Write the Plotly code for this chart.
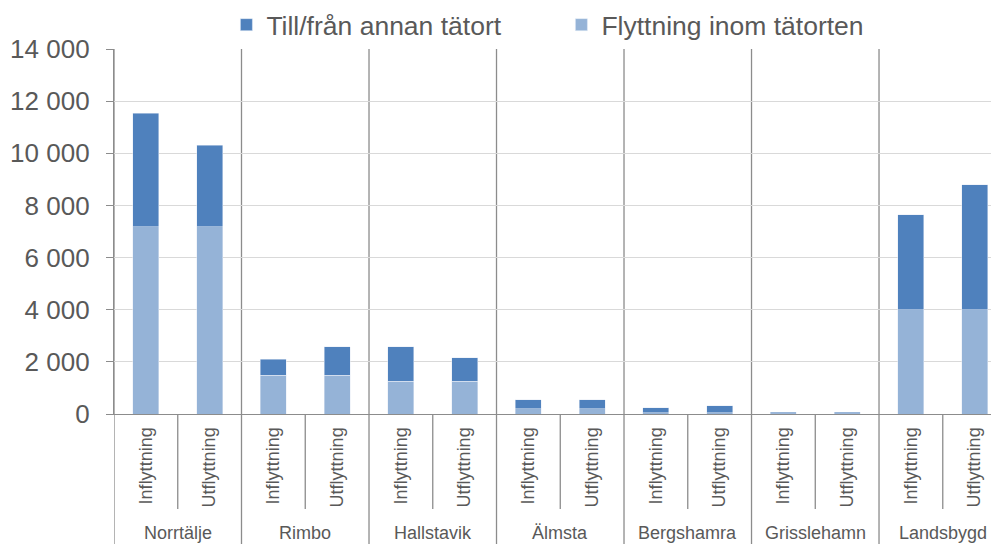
import numpy as np
import plotly.graph_objects as go

# orter och flyttningstyp
orter = ["Norrtälje", "Rimbo", "Hallstavik", "Älmsta", "Bergshamra", "Grisslehamn", "Landsbygd"]
typer = ["Inflyttning", "Utflyttning"]

# Flyttning inom tätorten (ljusblå), per ort: [inflyttning, utflyttning]
inom_infl = [7190, 1490, 1250, 200, 50, 10, 4000]
inom_utfl = [7190, 1490, 1250, 200, 50, 10, 4000]
# Till/från annan tätort (mörkblå)
annan_infl = [4340, 610, 1330, 350, 190, 60, 3650]
annan_utfl = [3120, 1090, 900, 350, 270, 60, 4800]

# varva inflyttning/utflyttning för varje ort
inom = [v for pair in zip(inom_infl, inom_utfl) for v in pair]
annan = [v for pair in zip(annan_infl, annan_utfl) for v in pair]
etiketter = typer * len(orter)
xpos = np.arange(len(etiketter))

grey_txt = "#595959"
axis_col = "#8c8c8c"
font = "Liberation Sans, Arial, sans-serif"

fig = go.Figure()
fig.add_trace(go.Bar(x=xpos, y=inom, name="Flyttning inom tätorten",
                     marker_color="#95b3d7", width=0.41))
fig.add_trace(go.Bar(x=xpos, y=annan, name="Till/från annan tätort",
                     marker_color="#4f81bd", width=0.41))

# avdelare mellan orter (genom diagrammet och ner till etiketterna)
shapes = []
for k in range(len(orter) + 1):
    xb = 2 * k - 0.5
    shapes.append(dict(type="line", xref="x", yref="paper", x0=xb, x1=xb, y0=1, y1=-0.36,
                       line=dict(color=axis_col, width=1.3), layer="below"))
# avdelare mellan inflyttning/utflyttning
for k in range(len(orter)):
    xb = 2 * k + 0.5
    shapes.append(dict(type="line", xref="x", yref="paper", x0=xb, x1=xb, y0=0, y1=-0.26,
                       line=dict(color=axis_col, width=1.3)))

annotations = []
for k, ort in enumerate(orter):
    annotations.append(dict(x=2 * k + 0.5, y=-0.325, xref="x", yref="paper", text=ort,
                            showarrow=False, yanchor="middle",
                            font=dict(size=18, color=grey_txt, family=font)))

# sidan får 8 px marginal i webbläsaren, därför 991x536
fig.update_layout(
    width=991, height=536,
    barmode="stack",
    plot_bgcolor="white", paper_bgcolor="white",
    margin=dict(l=106, r=0, t=41, b=130, autoexpand=False),
    separators=", ",
    font=dict(family=font, color=grey_txt),
    shapes=shapes,
    annotations=annotations,
    legend=dict(orientation="h", traceorder="reversed", x=0.127, xanchor="left",
                y=1.066, yanchor="middle", font=dict(size=26.5, color=grey_txt),
                itemwidth=30, entrywidth=290, bgcolor="rgba(0,0,0,0)"),
)
fig.update_xaxes(range=[-0.5, 13.382], tickvals=xpos, ticktext=etiketter, tickangle=-90,
                 ticks="", showgrid=False, showline=True, linecolor=axis_col, linewidth=1.3,
                 tickfont=dict(size=18, color=grey_txt), ticklabelstandoff=5, zeroline=False)
fig.update_yaxes(range=[0, 14000], dtick=2000, tickformat=",d", showgrid=True,
                 gridcolor="#d9d9d9", gridwidth=1.3, showline=True, linecolor=axis_col,
                 linewidth=1.3, ticks="outside", ticklen=7, tickcolor=axis_col,
                 tickfont=dict(size=26, color=grey_txt), ticklabelstandoff=11, zeroline=False)

fig.write_html("out.html")
